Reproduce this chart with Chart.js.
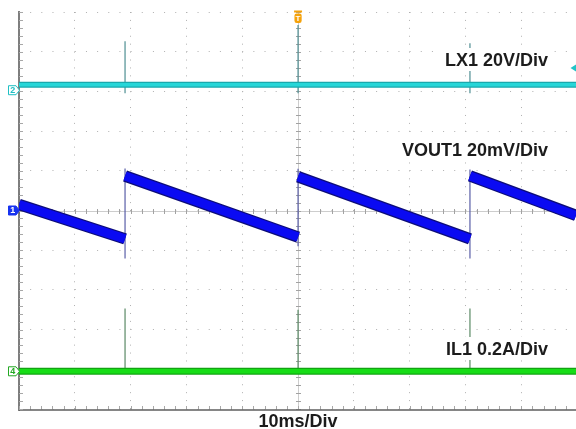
<!DOCTYPE html>
<html>
<head>
<meta charset="utf-8">
<script src="https://cdn.jsdelivr.net/npm/chart.js@4.4.1/dist/chart.umd.min.js"></script>
<style>
  html, body { margin: 0; padding: 0; background: #ffffff; }
  #wrap { width: 576px; height: 429px; position: relative; }
</style>
</head>
<body>
<div id="wrap"><canvas id="c" width="576" height="429"></canvas></div>
<script>
// ---------------- data ----------------
// time axis: 10 ms/div, trace spans 0 .. ~99.8 ms
const TIME_MIN_MS = 0;
const TIME_MAX_MS = 99.8;
const TIME_PER_DIV_MS = 10;

// channel settings: units per division and reference-marker position (divisions from centre)
const VOUT1_PER_DIV = 20;     // mV/div
const VOUT1_POS_DIV = 0;
const LX1_PER_DIV = 20;       // V/div
const LX1_POS_DIV = 3.03;
const IL1_PER_DIV = 0.2;      // A/div
const IL1_POS_DIV = -4.05;

// instants of the output-capacitor recharge events (ms)
const EVENT_T = [19.0, 50.0, 80.8];

// VOUT1 sawtooth ramps (mV relative to channel-1 marker)
const VOUT1_RAMP_T0 = [0, 19.0, 50.0, 80.8];
const VOUT1_RAMP_T1 = [19.0, 50.0, 80.8, 99.8];
const VOUT1_RAMP_V0 = [3.0, 17.4, 17.0, 17.4];
const VOUT1_RAMP_V1 = [-14.3, -13.4, -14.3, -2.5];
// thin vertical edge at each recharge event (mV)
const VOUT1_EDGE_HI = [21.2, 21.0, 20.7];
const VOUT1_EDGE_LO = [-24.2, -18.0, -24.2];

// LX1 switch node (V)
const LX1_LEVEL = 2.8;
const LX1_SPIKE_HI = [24.7, 32.8, 23.7];
const LX1_SPIKE_LO = [-1.5, -1.5, -1.5];

// IL1 inductor current (A)
const IL1_LEVEL = 0.0;
const IL1_SPIKE_HI = [0.316, 0.31, 0.316];
const IL1_SPIKE_LO = [0.0, 0.0, 0.0];

// labels
const LABEL_LX1 = 'LX1 20V/Div';
const LABEL_VOUT1 = 'VOUT1 20mV/Div';
const LABEL_IL1 = 'IL1 0.2A/Div';
const LABEL_TIME = '10ms/Div';

// ---------------- build datasets ----------------
function rampPoints() {
  const pts = [];
  for (let i = 0; i < VOUT1_RAMP_T0.length; i++) {
    pts.push({x: VOUT1_RAMP_T0[i], y: VOUT1_RAMP_V0[i]});
    pts.push({x: VOUT1_RAMP_T1[i], y: VOUT1_RAMP_V1[i]});
    pts.push({x: VOUT1_RAMP_T1[i], y: null});
  }
  return pts;
}
function spikePoints(lo, hi) {
  const pts = [];
  for (let i = 0; i < EVENT_T.length; i++) {
    pts.push({x: EVENT_T[i], y: lo[i]});
    pts.push({x: EVENT_T[i], y: hi[i]});
    pts.push({x: EVENT_T[i], y: null});
  }
  return pts;
}
function flatPoints(level) {
  return [{x: TIME_MIN_MS, y: level}, {x: TIME_MAX_MS, y: level}];
}
function channelAxis(perDiv, posDiv) {
  return {
    type: 'linear', display: false,
    min: (-5 - posDiv) * perDiv,
    max: (5 - posDiv) * perDiv
  };
}

const common = { showLine: true, pointRadius: 0, pointHoverRadius: 0, spanGaps: false, tension: 0, borderCapStyle: 'butt' };

const datasets = [
  // spikes (under the bands)
  Object.assign({}, common, { label: 'LX1 spikes', data: spikePoints(LX1_SPIKE_LO, LX1_SPIKE_HI), yAxisID: 'yLX1', borderColor: '#4f8f93', borderWidth: 1.2, order: 9 }),
  Object.assign({}, common, { label: 'IL1 spikes', data: spikePoints(IL1_SPIKE_LO, IL1_SPIKE_HI), yAxisID: 'yIL1', borderColor: '#5b8a66', borderWidth: 1.2, order: 9 }),
  Object.assign({}, common, { label: 'VOUT1 edges', data: spikePoints(VOUT1_EDGE_LO, VOUT1_EDGE_HI), yAxisID: 'yVOUT1', borderColor: '#5a5fa8', borderWidth: 1.2, order: 9 }),
  // LX1 band
  Object.assign({}, common, { label: 'LX1 edge', data: flatPoints(LX1_LEVEL), yAxisID: 'yLX1', borderColor: '#19a9ad', borderWidth: 6, order: 6 }),
  Object.assign({}, common, { label: 'LX1', data: flatPoints(LX1_LEVEL), yAxisID: 'yLX1', borderColor: '#27d6d8', borderWidth: 3.5, order: 5 }),
  // IL1 band
  Object.assign({}, common, { label: 'IL1 edge', data: flatPoints(IL1_LEVEL), yAxisID: 'yIL1', borderColor: '#13a313', borderWidth: 7, order: 6 }),
  Object.assign({}, common, { label: 'IL1', data: flatPoints(IL1_LEVEL), yAxisID: 'yIL1', borderColor: '#16dd16', borderWidth: 4.5, order: 5 }),
  // VOUT1 band
  Object.assign({}, common, { label: 'VOUT1 edge', data: rampPoints(), yAxisID: 'yVOUT1', borderColor: '#0d0d78', borderWidth: 11.5, order: 4 }),
  Object.assign({}, common, { label: 'VOUT1', data: rampPoints(), yAxisID: 'yVOUT1', borderColor: '#0a0af2', borderWidth: 9, order: 3 })
];

// ---------------- scope decorations ----------------
const FONT = '"Liberation Sans", Arial, Helvetica, sans-serif';

function drawLine(ctx, x1, y1, x2, y2) {
  ctx.beginPath(); ctx.moveTo(x1, y1); ctx.lineTo(x2, y2); ctx.stroke();
}

const scopeDecor = {
  id: 'scopeDecor',
  beforeDatasetsDraw(chart) {
    const {ctx, chartArea: a} = chart;
    const x = chart.scales.x, y = chart.scales.y;
    ctx.save();
    const cx = Math.round(x.getPixelForValue(50)) + 0.5;
    const cy = Math.round(y.getPixelForValue(0)) + 0.5;
    // centre cross
    ctx.strokeStyle = '#cdcdcd'; ctx.lineWidth = 1;
    drawLine(ctx, a.left, cy, a.right, cy);
    drawLine(ctx, cx, a.top, cx, a.bottom);
    ctx.strokeStyle = '#a2a2a2';
    for (let v = 0; v <= TIME_MAX_MS; v += TIME_PER_DIV_MS / 5) {
      const px = Math.round(x.getPixelForValue(v)) + 0.5;
      drawLine(ctx, px, cy - 2.5, px, cy + 2.5);
    }
    for (let k = -25; k <= 25; k++) {
      const py = Math.round(y.getPixelForValue(k / 5)) + 0.5;
      drawLine(ctx, cx - 2.5, py, cx + 2.5, py);
    }
    // left and bottom frame with minor ticks
    ctx.strokeStyle = '#5e5e5e'; ctx.lineWidth = 1.6;
    drawLine(ctx, a.left, a.top - 1, a.left, a.bottom + 2);
    drawLine(ctx, a.left, a.bottom + 1, a.right, a.bottom + 1);
    ctx.strokeStyle = '#a8a8a8'; ctx.lineWidth = 1;
    for (let k = -25; k <= 25; k++) {
      const py = Math.round(y.getPixelForValue(k / 5)) + 0.5;
      drawLine(ctx, a.left, py, a.left + 4, py);
    }
    for (let v = 0; v <= TIME_MAX_MS; v += TIME_PER_DIV_MS / 5) {
      const px = Math.round(x.getPixelForValue(v)) + 0.5;
      drawLine(ctx, px, a.bottom - 3, px, a.bottom);
    }
    ctx.restore();
  },
  afterDraw(chart) {
    const {ctx, chartArea: a} = chart;
    const x = chart.scales.x;
    const yV = chart.scales.yVOUT1, yL = chart.scales.yLX1, yI = chart.scales.yIL1;
    ctx.save();
    // channel reference markers on the left
    function chMarker(py, txt, color, filled) {
      const l = 8.5, r = 16, tip = 19.5, h = 4.5;
      ctx.beginPath();
      ctx.moveTo(l, py - h); ctx.lineTo(r, py - h); ctx.lineTo(tip, py);
      ctx.lineTo(r, py + h); ctx.lineTo(l, py + h); ctx.closePath();
      ctx.fillStyle = filled ? color : '#ffffff';
      ctx.fill();
      ctx.strokeStyle = color; ctx.lineWidth = 1; ctx.stroke();
      ctx.fillStyle = filled ? '#ffffff' : color;
      ctx.font = 'bold 9px ' + FONT;
      ctx.textAlign = 'center'; ctx.textBaseline = 'middle';
      ctx.fillText(txt, 12.8, py + 0.5);
    }
    chMarker(yL.getPixelForValue(0), '2', '#1fc0c4', false);
    chMarker(yV.getPixelForValue(0), '1', '#1733f0', true);
    chMarker(yI.getPixelForValue(0), '4', '#22a822', false);

    // trigger position marker (top, orange)
    const tx = x.getPixelForValue(50);
    ctx.fillStyle = '#f5a20a';
    ctx.fillRect(tx - 4, 10.5, 8, 2);
    ctx.beginPath();
    ctx.roundRect(tx - 3.6, 13.5, 7.2, 9.5, 2.2);
    ctx.fill();
    ctx.fillStyle = '#ffffff';
    ctx.font = 'bold 8px ' + FONT;
    ctx.textAlign = 'center'; ctx.textBaseline = 'middle';
    ctx.fillText('T', tx, 18.6);

    // trigger level marker (right, cyan)
    ctx.fillStyle = '#22c4c8';
    ctx.beginPath();
    ctx.moveTo(570.5, 68); ctx.lineTo(576, 64.5); ctx.lineTo(576, 71.5); ctx.closePath();
    ctx.fill();

    // channel labels with white backing
    ctx.font = 'bold 18px ' + FONT;
    ctx.textAlign = 'right'; ctx.textBaseline = 'alphabetic';
    function label(txt, rightX, baseY) {
      const w = ctx.measureText(txt).width;
      ctx.fillStyle = '#ffffff';
      ctx.fillRect(rightX - w - 3, baseY - 18, w + 6, 23);
      ctx.fillStyle = '#1c1c1c';
      ctx.fillText(txt, rightX, baseY);
    }
    label(LABEL_LX1, 548, 66);
    label(LABEL_VOUT1, 548, 156);
    label(LABEL_IL1, 548, 355);

    // time-base label
    ctx.fillStyle = '#1c1c1c';
    ctx.textAlign = 'center';
    ctx.fillText(LABEL_TIME, tx, 427);
    ctx.restore();
  }
};

// ---------------- chart ----------------
new Chart(document.getElementById('c'), {
  type: 'scatter',
  data: { datasets },
  options: {
    responsive: false,
    animation: false,
    events: [],
    layout: { padding: { left: 19, top: 12, right: 0, bottom: 20 } },
    plugins: { legend: { display: false }, tooltip: { enabled: false }, title: { display: false } },
    scales: {
      x: {
        type: 'linear', min: TIME_MIN_MS, max: TIME_MAX_MS,
        ticks: { display: false, stepSize: TIME_PER_DIV_MS },
        grid: { color: '#b0b0b0', lineWidth: 1, drawTicks: false },
        border: { display: false, dash: [1, 6.92] }
      },
      y: {
        type: 'linear', min: -5, max: 5,
        ticks: { display: false, stepSize: 1 },
        grid: { color: '#b0b0b0', lineWidth: 1, drawTicks: false },
        border: { display: false, dash: [1, 10.16] }
      },
      yVOUT1: channelAxis(VOUT1_PER_DIV, VOUT1_POS_DIV),
      yLX1: channelAxis(LX1_PER_DIV, LX1_POS_DIV),
      yIL1: channelAxis(IL1_PER_DIV, IL1_POS_DIV)
    }
  },
  plugins: [scopeDecor]
});
</script>
</body>
</html>
